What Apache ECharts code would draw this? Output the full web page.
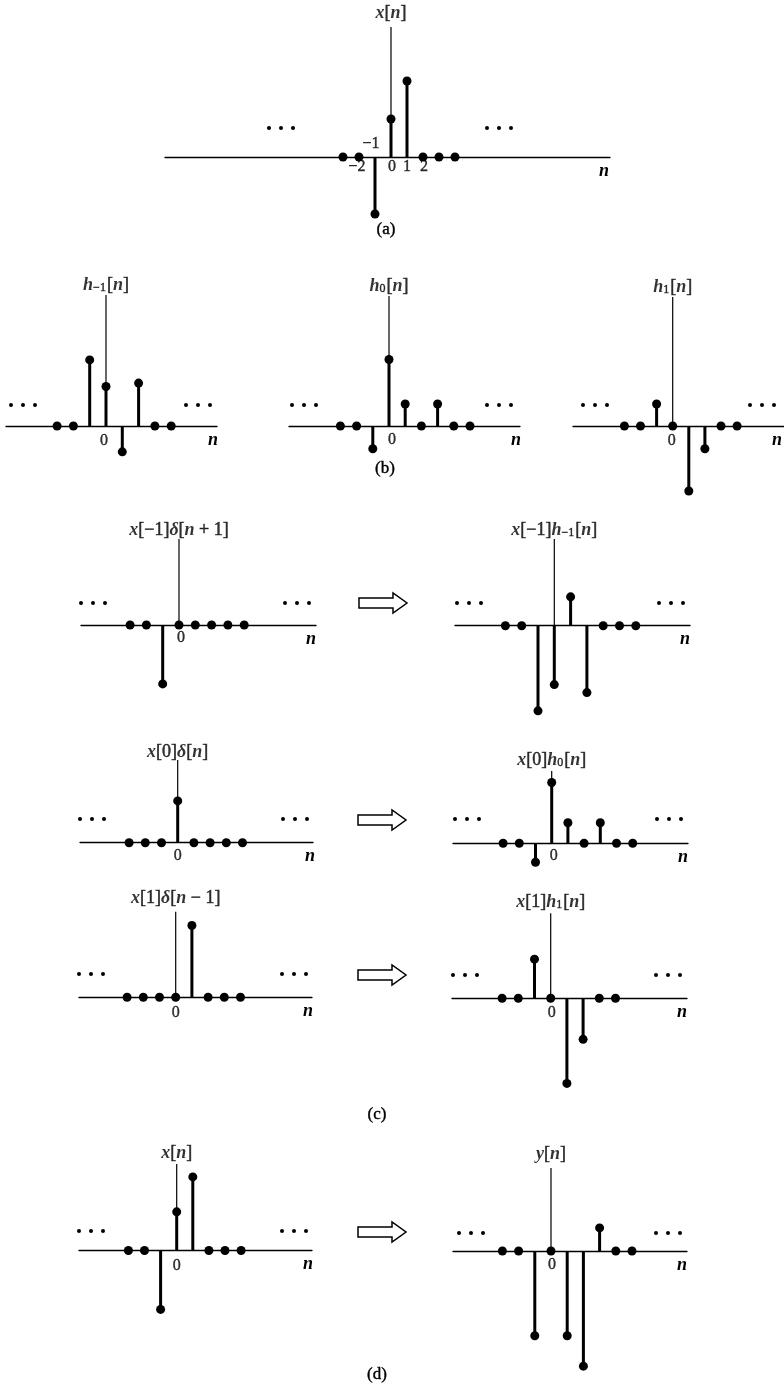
<!DOCTYPE html>
<html>
<head>
<meta charset="utf-8">
<script src="https://cdn.jsdelivr.net/npm/echarts@6/dist/echarts.min.js"></script>
<style>
html, body { margin: 0; background: #fff; }
#chart { width: 784px; height: 1383px; }
</style>
</head>
<body>
<div id="chart"></div>
<script>
// sample indices
const N8 = [-3, -2, -1, 0, 1, 2, 3, 4]
const N9 = [-3, -2, -1, 0, 1, 2, 3, 4, 5]

// (a) input
const xA = [0, 0, -1.5, 1.0, 2.0, 0, 0, 0]
// (b) responses
const hM1 = [0, 0, 1.74, 1.04, -0.68, 1.13, 0, 0]
const h0 = [0, 0, -0.6, 1.75, 0.58, 0, 0.58, 0, 0]
const h1 = [0, 0, 0.58, 0, -1.71, -0.6, 0, 0]
// (c) pieces
const xM1Delta = [0, 0, -1.55, 0, 0, 0, 0, 0]
const xM1H = [0, 0, -2.24, -1.55, 0.76, -1.76, 0, 0, 0]
const x0Delta = [0, 0, 0, 1.1, 0, 0, 0, 0]
const x0H = [0, 0, -0.5, 1.6, 0.54, 0, 0.54, 0, 0]
const x1Delta = [0, 0, 0, 0, 1.89, 0, 0, 0]
const x1H = [0, 0, 1.03, 0, -2.24, -1.08, 0, 0]
// (d) input and output
const xD = [0, 0, -1.6, 1.05, 2.0, 0, 0, 0]
const yD = [0, 0, -2.31, 0, -2.31, -3.14, 0.63, 0, 0]

// tick labels
const tickAN = [-1, -2, 0, 1, 2]
const tickAText = ['−1', '−2', '0', '1', '2']
const tickZeroN = [0]
const tickZeroText = ['0']

const INK = '#000'
const FONT = 'Liberation Serif'
const PX = 38 // pixels per unit

const rich = {
    i: {fontFamily: FONT, fontSize: 18, fontStyle: 'italic', fontWeight: 'bold', color: INK},
    r: {fontFamily: FONT, fontSize: 18, color: INK, textBorderColor: INK, textBorderWidth: 0.5},
    s: {fontFamily: FONT, fontSize: 12, color: INK, verticalAlign: 'bottom', padding: [4, 1, 0, 0],
        textBorderColor: INK, textBorderWidth: 0.4},
}

// layout of each small plot (pixels)
const panels = [
    {n: N8, v: xA, name: '{i|x}{r|[}{i|n}{r|]}', x0: 391, dx: 16, axisY: 157, xl: 165, xr: 610, yTop: 27, nameDy: -14, nx: 604,
        tickN: tickAN, tickT: tickAText, tickOff: [[-4, -13], [-2, 10], [1, 10], [0, 10], [1, 10]]},
    {n: N8, v: hM1, name: '{i|h}{s|−1}{r|[}{i|n}{r|]}', x0: 106, dx: 16.3, axisY: 426, xl: 6, xr: 217, yTop: 295, nameDy: -10, nx: 213,
        tickN: tickZeroN, tickT: tickZeroText, tickOff: [[-2, 15]]},
    {n: N9, v: h0, name: '{i|h}{s|0}{r|[}{i|n}{r|]}', x0: 389, dx: 16.2, axisY: 426, xl: 289, xr: 520, yTop: 296, nameDy: -10, nx: 516,
        tickN: tickZeroN, tickT: tickZeroText, tickOff: [[3, 14]]},
    {n: N8, v: h1, name: '{i|h}{s|1}{r|[}{i|n}{r|]}', x0: 672.7, dx: 16.1, axisY: 426, xl: 573, xr: 784, yTop: 297, nameDy: -10, nx: 777,
        tickN: tickZeroN, tickT: tickZeroText, tickOff: [[-1, 15]]},
    {n: N8, v: xM1Delta, name: '{i|x}{r|[−1]}{i|δ}{r|[}{i|n}{r| + 1]}', x0: 179, dx: 16.3, axisY: 625, xl: 81, xr: 316, yTop: 539, nameDy: -9, nx: 311,
        tickN: tickZeroN, tickT: tickZeroText, tickOff: [[2, 13]]},
    {n: N9, v: xM1H, name: '{i|x}{r|[−1]}{i|h}{s|−1}{r|[}{i|n}{r|]}', x0: 554.3, dx: 16.3, axisY: 625.7, xl: 455, xr: 690, yTop: 539, nameDy: -9, nx: 685,
        tickN: [], tickT: [], tickOff: []},
    {n: N8, v: x0Delta, name: '{i|x}{r|[0]}{i|δ}{r|[}{i|n}{r|]}', x0: 177.7, dx: 16.2, axisY: 842.7, xl: 80, xr: 313, yTop: 760, nameDy: -8, nx: 310,
        tickN: tickZeroN, tickT: tickZeroText, tickOff: [[0, 13]]},
    {n: N9, v: x0H, name: '{i|x}{r|[0]}{i|h}{s|0}{r|[}{i|n}{r|]}', x0: 551.7, dx: 16.2, axisY: 843.3, xl: 453, xr: 688, yTop: 771, nameDy: -11, nx: 683,
        tickN: tickZeroN, tickT: tickZeroText, tickOff: [[2, 12]]},
    {n: N8, v: x1Delta, name: '{i|x}{r|[1]}{i|δ}{r|[}{i|n}{r| − 1]}', x0: 175.7, dx: 16.2, axisY: 997.3, xl: 79, xr: 312, yTop: 911.7, nameDy: -13, nx: 308,
        tickN: tickZeroN, tickT: tickZeroText, tickOff: [[0, 15]]},
    {n: N8, v: x1H, name: '{i|x}{r|[1]}{i|h}{s|1}{r|[}{i|n}{r|]}', x0: 550.7, dx: 16.2, axisY: 998.3, xl: 452, xr: 687, yTop: 913.3, nameDy: -11, nx: 682,
        tickN: tickZeroN, tickT: tickZeroText, tickOff: [[1, 14]]},
    {n: N8, v: xD, name: '{i|x}{r|[}{i|n}{r|]}', x0: 176.7, dx: 16.1, axisY: 1253.3, xl: 79, xr: 312, yTop: 1164, nameDy: -11, nx: 308,
        tickN: tickZeroN, tickT: tickZeroText, tickOff: [[0, 15]]},
    {n: N9, v: yD, name: '{i|y}{r|[}{i|n}{r|]}', x0: 551, dx: 16.2, axisY: 1254, xl: 453, xr: 687, yTop: 1168, nameDy: -14, nx: 682,
        tickN: tickZeroN, tickT: tickZeroText, tickOff: [[1, 14]]},
]

// "..." marks (first dot x, y) and arrows (left x, y), panel letters
const ellipses = [
    [269, 128], [487, 128],
    [11, 405], [186, 405], [292, 405], [487, 405], [583, 405], [750, 405],
    [81, 603], [285, 603], [457, 603], [659, 603],
    [80, 819], [283, 819], [455, 819], [657, 819],
    [79, 974], [282, 974], [453, 975], [656, 975],
    [79, 1231], [282, 1231], [459, 1233], [656, 1233],
]
const arrows = [[359, 603], [358, 820], [358, 975], [358, 1232]]
const letters = [['(a)', 386, 230], ['(b)', 385, 469], ['(c)', 377, 1115], ['(d)', 377, 1375]]

const BOTTOM = 3.6
const grids = [], xAxes = [], yAxes = [], series = []

const stemItem = (params, api) => {
    const p0 = api.coord([api.value(0), 0])
    const p1 = api.coord([api.value(0), api.value(1)])
    return {
        type: 'line',
        shape: {x1: p0[0], y1: p0[1], x2: p1[0], y2: p1[1]},
        style: {stroke: INK, lineWidth: 3},
    }
}

panels.forEach((p, i) => {
    const yMax = (p.axisY - p.yTop) / PX
    grids.push({left: p.xl, top: p.yTop, width: p.xr - p.xl, height: p.axisY - p.yTop + BOTTOM * PX})
    xAxes.push({
        gridIndex: i, type: 'value',
        min: (p.xl - p.x0) / p.dx, max: (p.xr - p.x0) / p.dx,
        axisLine: {show: true, onZero: true, lineStyle: {color: INK, width: 1.3}},
        axisTick: {show: false}, axisLabel: {show: false}, splitLine: {show: false},
        name: 'n', nameLocation: 'end', nameGap: p.nx - p.xr,
        nameTextStyle: {fontFamily: FONT, fontSize: 18, fontStyle: 'italic', fontWeight: 'bold', color: INK,
            align: 'center', verticalAlign: 'top', padding: [5, 0, 0, 0]},
    })
    yAxes.push({gridIndex: i, type: 'value', min: -BOTTOM, max: yMax, show: false})

    const pts = p.n.map((k, j) => [k, p.v[j]])
    series.push({
        type: 'line', xAxisIndex: i, yAxisIndex: i, data: [[0, 0], [0, yMax]],
        symbol: 'none', lineStyle: {color: INK, width: 1.2}, silent: true, z: 1, animation: false,
    })
    series.push({
        type: 'custom', xAxisIndex: i, yAxisIndex: i, clip: false, z: 2, silent: true,
        data: pts.filter((d) => d[1] !== 0), renderItem: stemItem,
    })
    series.push({
        type: 'scatter', xAxisIndex: i, yAxisIndex: i, clip: false, z: 3, silent: true,
        data: pts, symbolSize: 9, itemStyle: {color: INK, opacity: 1},
    })
    series.push({
        type: 'scatter', xAxisIndex: i, yAxisIndex: i, clip: false, z: 4, silent: true,
        data: [[0, yMax]], symbolSize: 1, itemStyle: {color: 'rgba(0,0,0,0)'},
        label: {show: true, position: 'inside', offset: [0, p.nameDy], formatter: p.name, rich: rich},
    })
    series.push({
        type: 'scatter', xAxisIndex: i, yAxisIndex: i, clip: false, z: 4, silent: true,
        symbolSize: 1, itemStyle: {color: 'rgba(0,0,0,0)'},
        data: p.tickN.map((k, j) => ({
            value: [k, 0],
            label: {show: true, position: 'inside', offset: p.tickOff[j], formatter: p.tickT[j],
                fontFamily: FONT, fontSize: 16, color: INK, textBorderColor: INK, textBorderWidth: 0.4},
        })),
    })
})

const graphic = []
ellipses.forEach(([x, y]) => {
    for (let k = 0; k < 3; k++) {
        graphic.push({type: 'circle', shape: {cx: x + k * 12, cy: y, r: 2}, style: {fill: INK}, silent: true})
    }
})
arrows.forEach(([x, y]) => {
    graphic.push({
        type: 'polygon', silent: true,
        shape: {points: [[x, y - 5], [x + 34, y - 5], [x + 34, y - 10], [x + 48, y], [x + 34, y + 10], [x + 34, y + 5], [x, y + 5]]},
        style: {fill: '#fff', stroke: INK, lineWidth: 1.5},
    })
})
letters.forEach(([t, x, y]) => {
    graphic.push({
        type: 'text', silent: true, x: x, y: y,
        style: {text: t, fontFamily: FONT, fontSize: 17, fill: INK, align: 'center', verticalAlign: 'middle',
            stroke: INK, lineWidth: 0.4},
    })
})

const chart = echarts.init(document.getElementById('chart'), null, {renderer: 'canvas'})
chart.setOption({
    backgroundColor: '#fff',
    animation: false,
    grid: grids,
    xAxis: xAxes,
    yAxis: yAxes,
    series: series,
    graphic: graphic,
})
</script>
</body>
</html>
